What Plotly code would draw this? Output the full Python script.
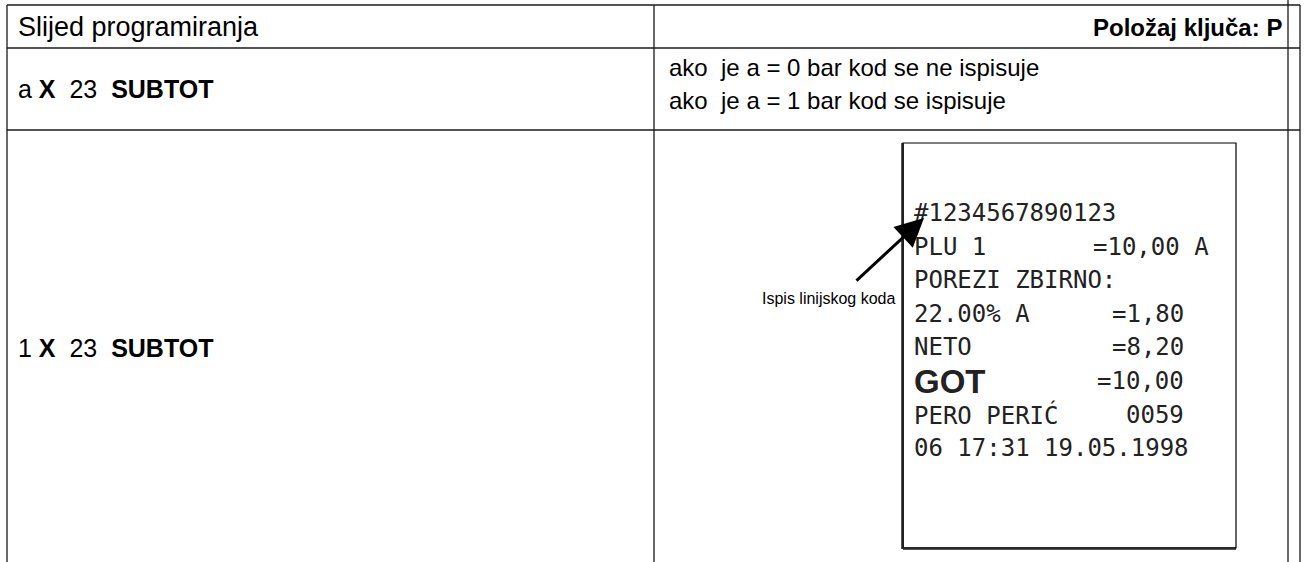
import plotly.graph_objects as go

# ---- content ----
header_left = "Slijed programiranja"
header_right = "<b>Položaj ključa: P</b>"
row1_sequence = "a <b>X</b>\u00a0 23 \u00a0<b>SUBTOT</b>"
row1_notes = ["ako \u00a0je a = 0 bar kod se ne ispisuje",
              "ako \u00a0je a = 1 bar kod se ispisuje"]
row2_sequence = "1 <b>X</b>\u00a0 23 \u00a0<b>SUBTOT</b>"
callout_label = "Ispis linijskog koda"
receipt_left = ["#1234567890123", "PLU 1", "POREZI ZBIRNO:", "22.00% A",
                "NETO", "GOT", "PERO PERIĆ", "06 17:31 19.05.1998"]
receipt_right = ["", "=10,00 A", "", "=1,80", "=8,20", "=10,00", "0059", ""]

# ---- layout geometry (pixels) ----
W, H = 1304, 562
xL, xM, xR1, xR2 = 7, 654, 1288, 1300
yTop, yHead, yRow1 = 5, 48, 130
box = dict(x0=903, x1=1236, y0=143, y1=548)
rec_x, rec_y0, rec_dy = 912, 213, 33.6
rec_right_x = [None, 1211, None, 1186, 1186, 1186, 1186, None]

fig = go.Figure()
fig.add_trace(go.Scatter(x=[0, W], y=[0, H], mode="markers",
                         marker=dict(opacity=0), hoverinfo="skip", showlegend=False))

line_col = "#1a1a1a"
shapes = []
def hline(y, x0, x1, w=1.6):
    shapes.append(dict(type="line", x0=x0, x1=x1, y0=y, y1=y, line=dict(color=line_col, width=w)))
def vline(x, y0, y1, w=1.3):
    shapes.append(dict(type="line", x0=x, x1=x, y0=y0, y1=y1, line=dict(color=line_col, width=w)))

for y in (yTop, yHead, yRow1):
    hline(y, xL, xR2)
vline(xL, yTop, H)
vline(xM, yTop, H)
vline(xR1, 0, H)
vline(xR2, yTop, H)

# receipt box with shadow
shapes.append(dict(type="line", x0=box["x0"] - 0.5, x1=box["x0"] - 0.5, y0=box["y0"], y1=box["y1"] + 1,
                   line=dict(color="#555555", width=3)))
shapes.append(dict(type="line", x0=box["x0"], x1=box["x1"], y0=box["y1"] + 0.5, y1=box["y1"] + 0.5,
                   line=dict(color="#555555", width=3)))
shapes.append(dict(type="rect", **box, line=dict(color="#000000", width=1.2)))

ann = []
FAM = "Liberation Sans, Arial, sans-serif"
base_font = dict(family=FAM, size=24, color="#000000")
def text(x, y, s, anchor="left", font=None):
    ann.append(dict(x=x, y=y, xref="x", yref="y", text=s, showarrow=False,
                    xanchor=anchor, yanchor="middle", font=font or base_font))

text(16, 27, header_left, font=dict(family=FAM, size=27, color="#000000"))
text(1284, 27, header_right, anchor="right")
text(16, 89, row1_sequence, font=dict(family=FAM, size=25, color="#000000"))
text(667, 67, row1_notes[0])
text(667, 100, row1_notes[1])
text(16, 348, row2_sequence, font=dict(family=FAM, size=25, color="#000000"))
text(898, 298, callout_label, anchor="right",
     font=dict(family=FAM, size=16, color="#000000"))

rec_font = dict(family="DejaVu Sans Mono, monospace", size=24, color="#222222")
got_font = dict(family=FAM, size=33, color="#222222")
for i, (lt, rt) in enumerate(zip(receipt_left, receipt_right)):
    y = rec_y0 + i * rec_dy
    if lt == "GOT":
        text(rec_x, y, "<b>" + lt + "</b>", font=got_font)
    else:
        text(rec_x, y, lt, font=rec_font)
    if rt:
        text(rec_right_x[i], y, rt, anchor="right", font=rec_font)

# arrow
ann.append(dict(x=924, y=218, ax=855, ay=282, xref="x", yref="y", axref="x", ayref="y",
                text="", showarrow=True, arrowhead=2, arrowsize=1.9, arrowwidth=3,
                arrowcolor="#000000"))

fig.update_layout(
    width=W, height=H, margin=dict(l=0, r=0, t=0, b=0),
    paper_bgcolor="white", plot_bgcolor="white",
    xaxis=dict(range=[0, W], visible=False, fixedrange=True),
    yaxis=dict(range=[H, 0], visible=False, fixedrange=True),
    shapes=shapes, annotations=ann, showlegend=False,
)
fig.write_html("out.html", config={"displayModeBar": False},
               post_script="document.body.style.margin='0';document.body.style.overflow='hidden';")
